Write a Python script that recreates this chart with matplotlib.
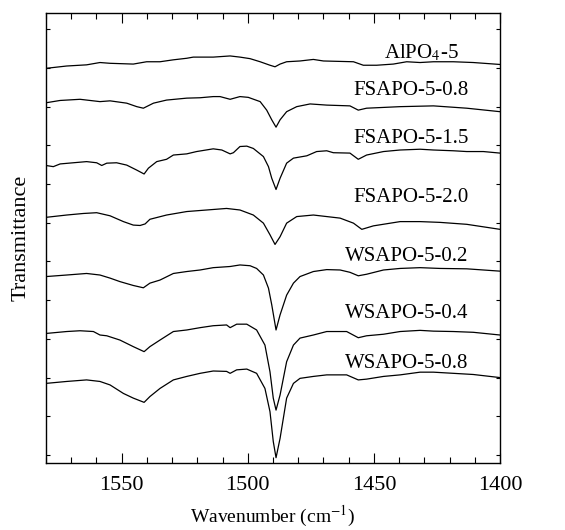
import matplotlib
matplotlib.use("Agg")
import matplotlib.pyplot as plt
from matplotlib.ticker import MultipleLocator

plt.rcParams['font.family'] = ['Liberation Serif', 'DejaVu Serif']
plt.rcParams['mathtext.fontset'] = 'stix'

# stacked FT-IR spectra, offset transmittance (a.u.)
alpo_wn = [1580, 1571.8, 1563.9, 1558.6, 1554.6, 1545.4, 1540.1, 1534.8, 1529.5, 1524.2, 1521.6,
           1513.7, 1507.0, 1503.1, 1499.1, 1495.1, 1491.2, 1489.2, 1487.2, 1484.6, 1479.3, 1474.0,
           1470.0, 1458.1, 1454.2, 1448.9, 1442.3, 1437.0, 1431.7, 1426.4, 1418.5, 1410.6, 1400]
alpo_t = [9.99, 10.05, 10.08, 10.14, 10.12, 10.10, 10.16, 10.16, 10.21, 10.25, 10.28,
          10.28, 10.31, 10.28, 10.24, 10.16, 10.07, 10.03, 10.10, 10.16, 10.18, 10.22,
          10.18, 10.16, 10.07, 10.07, 10.10, 10.16, 10.14, 10.16, 10.16, 10.14, 10.09]

fs08_wn = [1580, 1574.4, 1566.5, 1558.6, 1554.6, 1548.0, 1544.0, 1541.4, 1537.4, 1532.2, 1524.2,
           1518.9, 1513.7, 1511.0, 1507.0, 1503.1, 1499.8, 1495.1, 1492.5, 1490.5, 1488.8, 1487.2,
           1484.6, 1480.6, 1475.3, 1468.7, 1459.5, 1456.2, 1452.9, 1439.6, 1426.4, 1413.2, 1400]
fs08_t = [9.10, 9.16, 9.19, 9.13, 9.15, 9.09, 9.00, 8.96, 9.09, 9.17, 9.22,
          9.23, 9.26, 9.26, 9.19, 9.26, 9.24, 9.13, 8.91, 8.66, 8.47, 8.66,
          8.87, 9.00, 9.07, 9.04, 9.02, 8.91, 8.96, 9.00, 9.02, 8.96, 8.87]

fs15_wn = [1580, 1577.1, 1574.4, 1569.2, 1563.9, 1559.9, 1557.9, 1555.9, 1552.0, 1548.0, 1544.0,
           1541.1, 1539.4, 1536.1, 1532.2, 1529.5, 1524.2, 1520.3, 1513.7, 1510.3, 1507.0, 1505.7,
           1503.1, 1500.4, 1497.8, 1493.8, 1491.8, 1490.5, 1488.8, 1487.2, 1484.6, 1481.9, 1476.6,
           1472.7, 1468.7, 1466.1, 1459.5, 1456.2, 1452.9, 1446.2, 1439.6, 1431.7, 1426.4, 1418.5,
           1413.2, 1406.6, 1400]
fs15_t = [7.48, 7.45, 7.52, 7.55, 7.58, 7.55, 7.48, 7.54, 7.55, 7.49, 7.36,
          7.26, 7.41, 7.58, 7.64, 7.75, 7.78, 7.84, 7.91, 7.88, 7.78, 7.81,
          7.97, 7.98, 7.92, 7.71, 7.45, 7.15, 6.86, 7.15, 7.54, 7.67, 7.73,
          7.84, 7.86, 7.81, 7.80, 7.64, 7.75, 7.84, 7.88, 7.90, 7.88, 7.86,
          7.84, 7.84, 7.80]

fs20_wn = [1580, 1571.8, 1565.2, 1559.9, 1554.6, 1549.3, 1545.4, 1542.7, 1540.7, 1538.8, 1532.2,
           1524.2, 1516.3, 1508.4, 1503.1, 1497.8, 1493.8, 1491.2, 1489.2, 1487.2, 1484.6, 1480.6,
           1474.0, 1468.7, 1463.4, 1458.1, 1454.8, 1450.2, 1439.6, 1431.7, 1423.8, 1413.2, 1400]
fs20_t = [6.14, 6.20, 6.24, 6.26, 6.18, 6.03, 5.94, 5.93, 5.97, 6.09, 6.20,
          6.29, 6.33, 6.37, 6.33, 6.20, 5.99, 5.69, 5.44, 5.64, 5.99, 6.16,
          6.20, 6.16, 6.12, 5.99, 5.83, 5.92, 6.03, 6.03, 6.01, 5.96, 5.83]

ws02_wn = [1580, 1571.8, 1563.9, 1558.6, 1554.6, 1550.7, 1545.4, 1541.4, 1538.8, 1534.8, 1529.5,
           1524.2, 1518.9, 1513.7, 1507.0, 1503.1, 1499.1, 1496.5, 1493.8, 1491.8, 1490.5, 1488.8,
           1487.2, 1484.6, 1481.9, 1479.3, 1474.0, 1468.7, 1463.4, 1459.5, 1456.2, 1452.9, 1446.2,
           1439.6, 1431.7, 1423.8, 1413.2, 1400]
ws02_t = [4.61, 4.65, 4.69, 4.65, 4.57, 4.48, 4.38, 4.32, 4.44, 4.52, 4.69,
          4.74, 4.78, 4.84, 4.87, 4.91, 4.89, 4.82, 4.65, 4.31, 3.88, 3.23,
          3.62, 4.13, 4.44, 4.61, 4.74, 4.79, 4.78, 4.72, 4.63, 4.67, 4.78,
          4.82, 4.84, 4.82, 4.81, 4.75]

ws04_wn = [1580, 1571.8, 1566.5, 1561.2, 1558.6, 1555.9, 1550.7, 1545.4, 1541.1, 1538.8, 1534.8,
           1529.5, 1524.2, 1518.9, 1513.7, 1508.4, 1507.0, 1504.4, 1500.4, 1496.5, 1493.2, 1491.2,
           1489.9, 1488.8, 1487.2, 1484.6, 1481.9, 1479.3, 1474.0, 1468.7, 1460.8, 1456.2, 1452.9,
           1446.2, 1439.6, 1431.7, 1426.4, 1418.5, 1410.6, 1400]
ws04_t = [3.14, 3.19, 3.21, 3.19, 3.10, 3.08, 2.97, 2.80, 2.67, 2.80, 2.97,
          3.19, 3.23, 3.29, 3.34, 3.36, 3.29, 3.38, 3.38, 3.23, 2.84, 2.15,
          1.47, 1.16, 1.55, 2.41, 2.84, 3.02, 3.10, 3.19, 3.19, 3.03, 3.08,
          3.12, 3.19, 3.22, 3.20, 3.19, 3.17, 3.10]

ws08_wn = [1580, 1571.8, 1563.9, 1558.6, 1554.6, 1549.3, 1545.4, 1541.1, 1538.8, 1534.8, 1529.5,
           1524.2, 1518.9, 1513.7, 1508.4, 1507.0, 1504.4, 1500.4, 1496.5, 1493.2, 1491.2, 1489.9,
           1488.8, 1487.2, 1484.6, 1481.9, 1479.3, 1474.0, 1468.7, 1460.8, 1456.2, 1452.9, 1446.2,
           1439.6, 1431.7, 1426.4, 1418.5, 1410.6, 1400]
ws08_t = [1.85, 1.90, 1.94, 1.90, 1.81, 1.59, 1.47, 1.36, 1.51, 1.72, 1.94,
          2.03, 2.11, 2.17, 2.16, 2.11, 2.20, 2.22, 2.11, 1.72, 1.12, 0.35,
          -0.07, 0.43, 1.47, 1.85, 1.98, 2.03, 2.07, 2.07, 1.94, 1.96, 2.03,
          2.07, 2.14, 2.14, 2.11, 2.08, 2.00]

labels = [r'AlPO$_4$-5', 'FSAPO-5-0.8', 'FSAPO-5-1.5', 'FSAPO-5-2.0',
          'WSAPO-5-0.2', 'WSAPO-5-0.4', 'WSAPO-5-0.8']
label_x = [1431, 1412.5, 1412.5, 1412.5, 1412.5, 1412.5, 1412.5]
label_ha = ['center', 'right', 'right', 'right', 'right', 'right', 'right']
label_y = [10.25, 9.30, 8.06, 6.54, 5.01, 3.54, 2.25]

spectra = [(alpo_wn, alpo_t), (fs08_wn, fs08_t), (fs15_wn, fs15_t), (fs20_wn, fs20_t),
           (ws02_wn, ws02_t), (ws04_wn, ws04_t), (ws08_wn, ws08_t)]

fig = plt.figure(figsize=(5.65, 5.30), dpi=100)
ax = fig.add_axes([0.0814, 0.1264, 0.8036, 0.8491])

for (wn, t), lab, lx, ha, ly in zip(spectra, labels, label_x, label_ha, label_y):
    ax.plot(wn, t, color='black', lw=0.9)
    ax.text(lx, ly, lab, ha=ha, va='baseline', fontsize=15)

ax.set_xlim(1580, 1400)
ax.set_ylim(-0.207, 11.42)
ax.xaxis.set_major_locator(MultipleLocator(50))
ax.xaxis.set_minor_locator(MultipleLocator(10))
ax.yaxis.set_major_locator(MultipleLocator(1))
ax.tick_params(axis='x', which='major', direction='in', length=7, width=0.8,
               top=True, labelsize=16, pad=9)
ax.tick_params(axis='x', which='minor', direction='in', length=4, width=0.8, top=True)
ax.tick_params(axis='y', which='major', direction='in', length=3, width=0.8,
               right=True, labelleft=False)
for sp in ax.spines.values():
    sp.set_linewidth(1.0)

ax.set_xlabel(r'Wavenumber (cm$^{-1}$)', fontsize=14, labelpad=7)
ax.set_ylabel('Transmittance', fontsize=16, labelpad=11)

fig.savefig('out.png', dpi=100)
